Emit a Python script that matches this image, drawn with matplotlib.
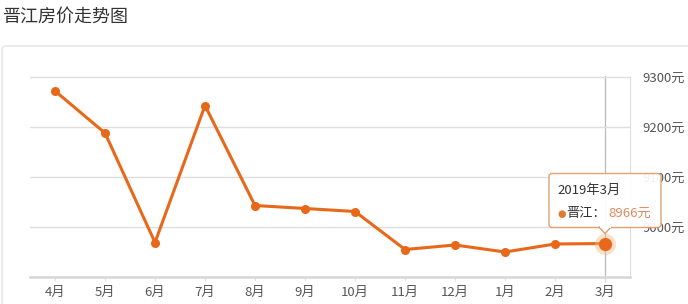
import matplotlib
matplotlib.use("Agg")
import matplotlib.pyplot as plt
from matplotlib.patches import FancyBboxPatch, Polygon, Rectangle

plt.rcParams["font.family"] = ["Noto Sans CJK SC", "DejaVu Sans"]

MONTHS = ["4月", "5月", "6月", "7月", "8月", "9月", "10月", "11月", "12月", "1月", "2月", "3月"]
PRICES = [9271, 9187, 8968, 9242, 9042, 9036, 9030, 8954, 8963, 8949, 8965, 8966]
Y_TICKS = [9000, 9100, 9200, 9300]
TITLE = "晋江房价走势图"
TIP_DATE = "2019年3月"
TIP_NAME = "晋江："
TIP_VALUE = "8966元"

ORANGE = "#e8681a"
GRID = "#dedede"

W, H = 688, 304
fig = plt.figure(figsize=(W / 100, H / 100), dpi=100)

# outer card frame, kept behind the axes
fig.patches.append(FancyBboxPatch((2, -10), W + 20, H - 46 + 10, boxstyle="round,pad=0,rounding_size=4",
                                  transform=None, facecolor="white", edgecolor="#e2e2e2", lw=1.0,
                                  zorder=-5))
fig.text(3 / W, 1 - 17 / H, TITLE, fontsize=13, color="#333333", ha="left", va="center")

ax = fig.add_axes([30 / W, 27.5 / H, 600 / W, 200 / H])
ax.set_facecolor("none")
x = list(range(len(MONTHS)))

ax.set_xlim(-0.5, len(MONTHS) - 0.5)
ax.set_ylim(8900, 9300)
ax.set_yticks(Y_TICKS)
ax.yaxis.tick_right()
ax.set_yticklabels([f"{v}元" for v in Y_TICKS], fontsize=9.5, color="#555555")
ax.tick_params(axis="y", length=0, pad=9)
ax.set_xticks(x)
ax.set_xticklabels(MONTHS, fontsize=9.5, color="#555555")
ax.tick_params(axis="x", length=3, color="#e4e4e4", pad=4)
ax.grid(axis="y", color=GRID, lw=1.0)
for side in ["top", "left"]:
    ax.spines[side].set_visible(False)
ax.spines["right"].set_color(GRID)
ax.spines["bottom"].set_color("#d6d6d6")
ax.spines["bottom"].set_linewidth(1.8)

# axis pointer on last month
ax.axvline(x[-1], color="#bbbbbb", lw=0.9, zorder=1, ymin=-0.02, clip_on=False)

ax.plot(x, PRICES, color=ORANGE, lw=2.2, marker="o", markersize=5.5, zorder=3, clip_on=False)
ax.scatter([x[-1]], [PRICES[-1]], s=230, color="#f6b88a", alpha=0.45, lw=0, zorder=4, clip_on=False)
ax.scatter([x[-1]], [PRICES[-1]], s=90, color=ORANGE, lw=0, zorder=5, clip_on=False)

# tooltip anchored to last point
fig.canvas.draw()
px, py = ax.transData.transform((x[-1], PRICES[-1]))
tip_y = py + 10
bw, bh = 112, 54
bx0 = px - 56
by0 = tip_y + 6
fig.patches.append(FancyBboxPatch((bx0, by0), bw, bh, boxstyle="round,pad=0,rounding_size=3",
                                  transform=None, facecolor="white", edgecolor="#e49a63", lw=1.0,
                                  alpha=0.92, zorder=10))
fig.patches.append(Polygon([(px - 6, by0 + 0.5), (px + 6, by0 + 0.5), (px, tip_y)], closed=True,
                           transform=None, facecolor="white", edgecolor="#e49a63", lw=1.0, zorder=10))
fig.patches.append(Rectangle((px - 5.5, by0 - 0.2), 11, 2, transform=None,
                             facecolor="white", edgecolor="none", zorder=11))
fig.text((bx0 + 8) / W, (by0 + bh - 17) / H, TIP_DATE, fontsize=9.5, color="#333333",
         ha="left", va="center", zorder=12)
fig.text((bx0 + 8) / W, (by0 + 14) / H, "●", fontsize=7, color="#e07a2c", ha="left", va="center",
         family="DejaVu Sans", zorder=12)
fig.text((bx0 + 17) / W, (by0 + 14) / H, TIP_NAME, fontsize=9.5, color="#333333",
         ha="left", va="center", zorder=12)
fig.text((bx0 + 59) / W, (by0 + 14) / H, TIP_VALUE, fontsize=9.5, color="#e0895a",
         ha="left", va="center", zorder=12)

fig.savefig("out.png", dpi=100)
